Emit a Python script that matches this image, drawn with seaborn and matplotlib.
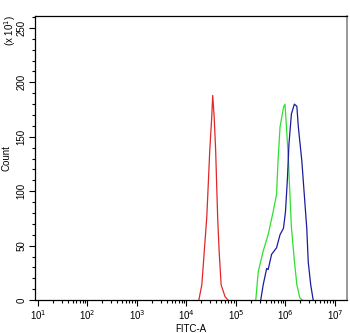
import matplotlib
matplotlib.use("Agg")
import matplotlib.pyplot as plt
import seaborn as sns
import numpy as np
import pandas as pd
from matplotlib.ticker import FixedLocator, NullFormatter

# histogram outlines: log10(FITC-A) and count (/10)
red_log = [4.25, 4.31, 4.36, 4.41, 4.44, 4.47, 4.51, 4.53, 4.56, 4.59, 4.61, 4.63, 4.66, 4.70, 4.78, 4.84]
red_cnt = [0, 14, 45, 76, 106, 137, 168, 188, 168, 137, 106, 76, 45, 14, 3, 0]

green_log = [5.40, 5.45, 5.55, 5.65, 5.75, 5.82, 5.85, 5.89, 5.96, 5.99, 6.02, 6.06, 6.09, 6.12, 6.18, 6.23, 6.29, 6.34]
green_cnt = [0, 26, 45, 60, 81, 97, 128, 159, 177, 180, 159, 128, 97, 67, 36, 14, 2, 0]

blue_log = [5.50, 5.55, 5.62, 5.65, 5.72, 5.82, 5.89, 5.96, 6.00, 6.04, 6.07, 6.12, 6.18, 6.23, 6.26, 6.33, 6.38, 6.43, 6.46, 6.51, 6.56]
blue_cnt = [0, 14, 29, 28, 42, 48, 60, 66, 81, 112, 143, 171, 180, 178, 159, 128, 97, 66, 35, 14, 0]

x_decades = [1, 2, 3, 4, 5, 6, 7]
y_ticks = [0, 50, 100, 150, 200, 250]

series = [("red", red_log, red_cnt, "#e02828"),
          ("green", green_log, green_cnt, "#2ee02e"),
          ("blue", blue_log, blue_cnt, "#1c1c9c")]

plt.rcParams['font.family'] = ['Liberation Sans', 'DejaVu Sans']
fig = plt.figure(figsize=(3.5, 3.33), dpi=100)
ax = fig.add_axes([0.1, 0.099, 0.891, 0.853])

for name, xs, ys, col in series:
    df = pd.DataFrame({"x": np.power(10.0, xs), "y": ys})
    sns.lineplot(data=df, x="x", y="y", sort=False, color=col, lw=0.9, ax=ax)

ax.set_xscale("log")
ax.set_xlim(10 ** 0.94, 10 ** 7.24)
ax.set_ylim(0, 261)

ax.set_xticks([10.0 ** d for d in x_decades])
ax.set_xticklabels([rf"10$^{{{d}}}$" for d in x_decades])
minor_x = [m * 10.0 ** d for d in x_decades for m in range(2, 10) if m * 10.0 ** d < 10 ** 7.24]
ax.xaxis.set_minor_locator(FixedLocator(minor_x))
ax.xaxis.set_minor_formatter(NullFormatter())
ax.set_yticks(y_ticks)
ax.set_yticklabels([str(v) for v in y_ticks])
ax.yaxis.set_minor_locator(FixedLocator(list(range(0, 261, 10))))

ax.tick_params(axis="both", which="major", direction="out", length=4, width=0.8, labelsize=7, pad=2)
ax.tick_params(axis="both", which="minor", direction="out", length=2.5, width=0.8)
for lab in ax.get_yticklabels():
    lab.set_rotation(90)
    lab.set_va("center")

for s in ["left", "bottom", "top"]:
    ax.spines[s].set_color("black")
    ax.spines[s].set_linewidth(0.9)
ax.spines["right"].set_color("#888888")
ax.spines["right"].set_linewidth(1.2)

ax.set_xlabel("FITC-A", fontsize=7, labelpad=1)
ax.set_ylabel("Count", fontsize=7)
ax.yaxis.set_label_coords(-0.075, 0.5)
fig.text(0.029, 0.91, r"(x 10$^1$)", rotation=90, fontsize=7, ha="center", va="center")

fig.savefig("out.png", dpi=100)
